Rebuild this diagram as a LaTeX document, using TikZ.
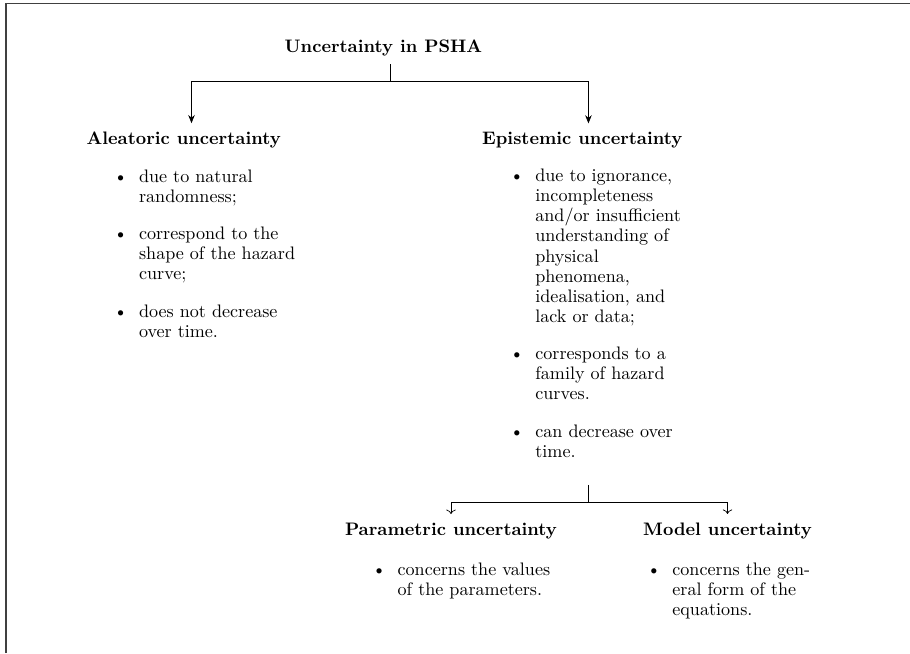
\documentclass[tikz,border=0pt]{standalone}
\usetikzlibrary{arrows.meta}
\newcommand{\bul}{\leavevmode\llap{\textbullet\hspace{6.3pt}}}
\newcommand{\itemgap}{\par\vspace{9.5pt}}
\newcommand{\blist}[1]{\parbox[t]{140pt}{\fontsize{10}{11.1}\selectfont #1}}
\tikzset{
  heading/.style={font=\bfseries, inner xsep=0pt, inner ysep=4.5pt, anchor=base},
  itemlist/.style={inner sep=0pt, anchor=base west},
  mainarrow/.style={-{Stealth[length=4.5pt,width=3.6pt]}},
  subarrow/.style={->},
  frameline/.style={line width=0.9pt, black!75},
}
\begin{document}
\begin{tikzpicture}[x=0.5525pt, y=-0.5525pt]
\useasboundingbox (0,0) rectangle (910,653);
\draw[frameline] (5.8,653) -- (5.8,3.6) -- (910,3.6);

% headings
\node[heading] (top) at (383.4,52.3) {Uncertainty in PSHA};
\node[heading] (ale) at (183.7,144.3) {Aleatoric uncertainty};
\node[heading] (epi) at (582.3,144.3) {Epistemic uncertainty};
\node[heading] (par) at (451,535) {Parametric uncertainty};
\node[heading] (mod) at (727.5,535) {Model uncertainty};

% lists
\node[itemlist] (al) at (138.7,182.3) {\blist{\bul due to natural\\randomness;\itemgap
\bul correspond to the\\shape of the hazard\\curve;\itemgap
\bul does not decrease\\over time.}};
\node[itemlist] (el) at (535,181.7) {\blist{\bul due to ignorance,\\incompleteness\\and/or insufficient\\understanding of\\physical\\phenomena,\\idealisation, and\\lack or data;\itemgap
\bul corresponds to a\\family of hazard\\curves.\itemgap
\bul can decrease over\\time.}};
\node[itemlist] (pl) at (397.3,575) {\blist{\bul concerns the values\\of the parameters.}};
\node[itemlist] (ml) at (672,575) {\blist{\bul concerns the gen-\\eral form of the\\equations.}};

% connectors
\coordinate (j1) at (390,81.7);
\draw (top.south -| j1) -- (j1);
\draw[mainarrow] (j1) -| ([xshift=4.3pt]ale.north);
\draw[mainarrow] (j1) -| ([xshift=3.4pt]epi.north);

\coordinate (j2) at (588.3,502.3);
\draw ([yshift=-15pt]el.south -| j2) -- (j2);
\draw[subarrow] (j2) -| (par.north);
\draw[subarrow] (j2) -| (mod.north);
\end{tikzpicture}
\end{document}
